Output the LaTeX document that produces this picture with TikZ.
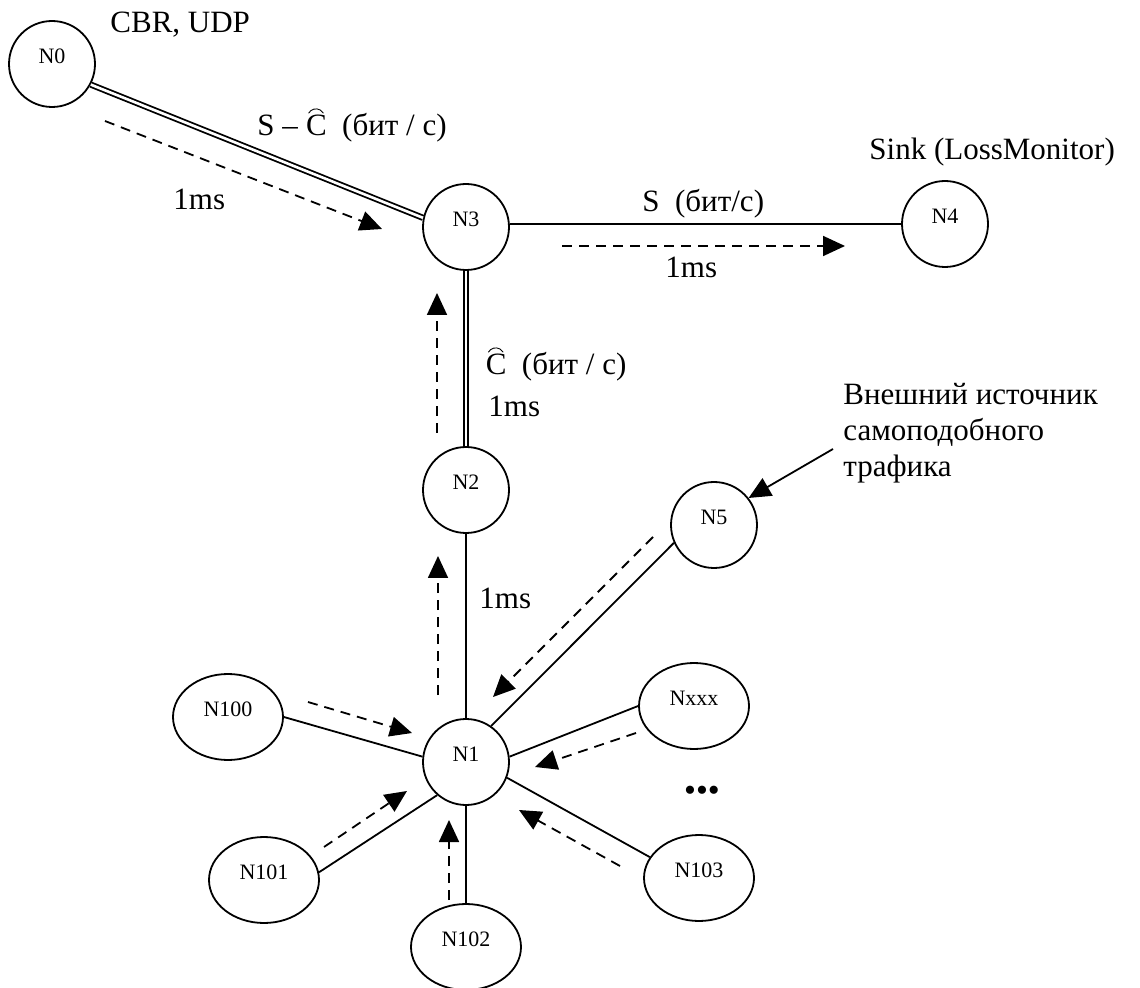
\documentclass[tikz,border=0pt]{standalone}
\usepackage{fontspec}
\setmainfont{Liberation Serif}
\usetikzlibrary{arrows.meta,shapes.geometric}
% C with an arc accent drawn above it
\newcommand{\arcC}{\tikz[baseline=0pt]{\path (0,0) node[inner sep=0pt, anchor=base west] {C};
  \draw[line width=0.45pt, line cap=round] (0.1em,0.74em) arc[start angle=150, end angle=30, radius=0.27em];}}
\begin{document}
\begin{tikzpicture}[x=0.5pt,y=-0.5pt,
  every node/.style={inner sep=0pt},
  nd/.style={draw, line width=0.9pt, circle, minimum size=43pt},
  el/.style={draw, line width=0.9pt, ellipse, minimum width=55pt, minimum height=43pt},
  lab/.style={font=\fontsize{11}{12}\selectfont, yshift=4pt},
  lnk/.style={line width=0.9pt},
  dbl/.style={double, line width=0.9pt, double distance=1.3pt},
  flow/.style={line width=0.9pt, dash pattern=on 5pt off 3.5pt, -{Triangle[length=11pt,width=10pt]}},
  ext/.style={line width=0.9pt, -{Triangle[length=11pt,width=10pt]}},
  txt/.style={font=\fontsize{15.5}{17}\selectfont, anchor=base west}
]
\useasboundingbox (0,0) rectangle (1140,988);

% nodes
\node[nd, label={[lab]center:N0}] (N0) at (52,64) {};
\node[nd, label={[lab]center:N3}] (N3) at (466,227) {};
\node[nd, label={[lab]center:N4}] (N4) at (945,224) {};
\node[nd, label={[lab]center:N2}] (N2) at (466,490) {};
\node[nd, label={[lab]center:N5}] (N5) at (714,525) {};
\node[nd, label={[lab]center:N1}] (N1) at (466,762) {};
\node[el, label={[lab]center:N100}] (N100) at (228,717) {};
\node[el, label={[lab]center:N101}] (N101) at (264,880) {};
\node[el, label={[lab]center:N102}] (N102) at (466,947) {};
\node[el, label={[lab]center:N103}] (N103) at (699,878) {};
\node[el, label={[lab]center:Nxxx}] (Nxxx) at (694,706) {};

% links
\draw[dbl] (N0.-28) -- (N3.168);
\draw[lnk] (N3.4) -- (N4.west);
\draw[dbl] (N3) -- (N2);
\draw[lnk] (N2) -- (N1);
\draw[lnk] (N5.204) -- (N1.55);
\draw[lnk] (N100.east) -- (N1.173);
\draw[lnk] (N101.8) -- (N1.229);
\draw[lnk] (N102) -- (N1);
\draw[lnk] (Nxxx.west) -- (N1.7);
\draw[lnk] (N103.157) -- (N1.-21);

% traffic direction
\coordinate (f0a) at (105,121);  \coordinate (f0b) at (382,229);
\coordinate (f3a) at (562,246);  \coordinate (f3b) at (845,246);
\coordinate (f2a) at (437,433);  \coordinate (f2b) at (437,293);
\coordinate (f1a) at (438,695);  \coordinate (f1b) at (438,556);
\coordinate (f5a) at (653,537);  \coordinate (f5b) at (493,697);
\coordinate (fAa) at (308,702);  \coordinate (fAb) at (412,733);
\coordinate (fBa) at (324,847);  \coordinate (fBb) at (407,791);
\coordinate (fCa) at (449,900);  \coordinate (fCb) at (449,820);
\coordinate (fXa) at (636,733);  \coordinate (fXb) at (535,767);
\coordinate (fDa) at (620,866);  \coordinate (fDb) at (519,810);
\draw[flow] (f0a) -- (f0b);
\draw[flow] (f3a) -- (f3b);
\draw[flow] (f2a) -- (f2b);
\draw[flow] (f1a) -- (f1b);
\draw[flow] (f5a) -- (f5b);
\draw[flow] (fAa) -- (fAb);
\draw[flow] (fBa) -- (fBb);
\draw[flow] (fCa) -- (fCb);
\draw[flow] (fXa) -- (fXb);
\draw[flow] (fDa) -- (fDb);

% external source pointer
\coordinate (ea) at (833,449);
\draw[ext] (ea) -- (N5.38);

% texts
\node[txt] (tcbr) at (110,33) {CBR, UDP};
\node[txt] (tsc) at (257,136) {S – \arcC\ \ (бит / с)};
\node[txt] (t1a) at (173,210) {1ms};
\node[txt] (ts) at (642,212) {S\ \ (бит/с)};
\node[txt] (t1b) at (665,278) {1ms};
\node[txt] (tsink) at (869,160) {Sink (LossMonitor)};
\node[txt] (tc) at (485,375) {\arcC\ \ (бит / с)};
\node[txt] (t1c) at (488,417) {1ms};
\node[txt] (t1d) at (479,608) {1ms};
\node[txt] (te1) at (843,405) {Внешний источник};
\node[txt] (te2) at (843,441) {самоподобного};
\node[txt] (te3) at (843,477) {трафика};
\node[font=\fontsize{17}{20}\selectfont] (dots) at (702,794) {•••};
\end{tikzpicture}
\end{document}
